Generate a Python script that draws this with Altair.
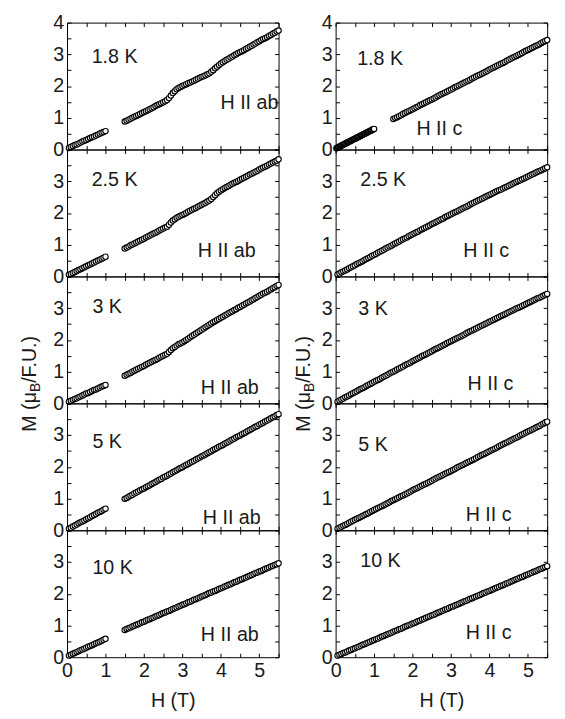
import altair as alt
import pandas as pd

FONT = "Liberation Sans"
TXT = "#1a1a1a"
W, HT = 215, 129

# ---------------- field grids (T) ----------------
H_LOW = [0.05, 0.10, 0.15, 0.20, 0.25, 0.30, 0.35, 0.40, 0.45, 0.50,
         0.55, 0.60, 0.65, 0.70, 0.75, 0.80, 0.85, 0.90, 0.95, 1.00]
H_HIGH = [1.50, 1.55, 1.60, 1.65, 1.70, 1.75, 1.80, 1.85, 1.90, 1.95,
          2.00, 2.05, 2.10, 2.15, 2.20, 2.25, 2.30, 2.35, 2.40, 2.45,
          2.50, 2.55, 2.60, 2.65, 2.70, 2.75, 2.80, 2.85, 2.90, 2.95,
          3.00, 3.05, 3.10, 3.15, 3.20, 3.25, 3.30, 3.35, 3.40, 3.45,
          3.50, 3.55, 3.60, 3.65, 3.70, 3.75, 3.80, 3.85, 3.90, 3.95,
          4.00, 4.05, 4.10, 4.15, 4.20, 4.25, 4.30, 4.35, 4.40, 4.45,
          4.50, 4.55, 4.60, 4.65, 4.70, 4.75, 4.80, 4.85, 4.90, 4.95,
          5.00, 5.05, 5.10, 5.15, 5.20, 5.25, 5.30, 5.35, 5.40, 5.45,
          5.50]
H_DENSE = [0.02, 0.04, 0.06, 0.08, 0.10, 0.12, 0.14, 0.16, 0.18, 0.20,
           0.22, 0.24, 0.26, 0.28, 0.30, 0.32, 0.34, 0.36, 0.38, 0.40,
           0.42, 0.44, 0.46, 0.48, 0.50, 0.52, 0.54, 0.56, 0.58, 0.60,
           0.62, 0.64, 0.66, 0.68, 0.70, 0.72, 0.74, 0.76, 0.78, 0.80,
           0.82, 0.84, 0.86, 0.88, 0.90, 0.92, 0.94, 0.96, 0.98, 1.00]
H_FULL = [0.05, 0.10, 0.15, 0.20, 0.25, 0.30, 0.35, 0.40, 0.45, 0.50,
          0.55, 0.60, 0.65, 0.70, 0.75, 0.80, 0.85, 0.90, 0.95, 1.00,
          1.05, 1.10, 1.15, 1.20, 1.25, 1.30, 1.35, 1.40, 1.45, 1.50,
          1.55, 1.60, 1.65, 1.70, 1.75, 1.80, 1.85, 1.90, 1.95, 2.00,
          2.05, 2.10, 2.15, 2.20, 2.25, 2.30, 2.35, 2.40, 2.45, 2.50,
          2.55, 2.60, 2.65, 2.70, 2.75, 2.80, 2.85, 2.90, 2.95, 3.00,
          3.05, 3.10, 3.15, 3.20, 3.25, 3.30, 3.35, 3.40, 3.45, 3.50,
          3.55, 3.60, 3.65, 3.70, 3.75, 3.80, 3.85, 3.90, 3.95, 4.00,
          4.05, 4.10, 4.15, 4.20, 4.25, 4.30, 4.35, 4.40, 4.45, 4.50,
          4.55, 4.60, 4.65, 4.70, 4.75, 4.80, 4.85, 4.90, 4.95, 5.00,
          5.05, 5.10, 5.15, 5.20, 5.25, 5.30, 5.35, 5.40, 5.45, 5.50]

# ---------------- H || ab magnetization (muB/F.U.) ----------------
M_AB_18_LOW = [0.05, 0.08, 0.11, 0.14, 0.16, 0.19, 0.22, 0.25, 0.28, 0.30,
               0.33, 0.36, 0.39, 0.41, 0.44, 0.47, 0.50, 0.53, 0.55, 0.58]
M_AB_18_HIGH = [0.88, 0.91, 0.94, 0.97, 1.00, 1.03, 1.06, 1.09, 1.12, 1.15,
                1.18, 1.21, 1.24, 1.27, 1.30, 1.33, 1.37, 1.40, 1.43, 1.46,
                1.49, 1.52, 1.56, 1.62, 1.70, 1.78, 1.84, 1.90, 1.94, 1.97,
                2.00, 2.03, 2.06, 2.09, 2.11, 2.14, 2.17, 2.20, 2.23, 2.26,
                2.29, 2.31, 2.34, 2.37, 2.40, 2.45, 2.50, 2.56, 2.61, 2.66,
                2.71, 2.75, 2.79, 2.83, 2.86, 2.90, 2.93, 2.97, 3.00, 3.04,
                3.07, 3.10, 3.13, 3.17, 3.20, 3.24, 3.27, 3.31, 3.34, 3.38,
                3.41, 3.45, 3.48, 3.51, 3.54, 3.58, 3.61, 3.65, 3.68, 3.72,
                3.75]
M_AB_25_LOW = [0.05, 0.08, 0.11, 0.14, 0.17, 0.20, 0.23, 0.26, 0.29, 0.32,
               0.35, 0.38, 0.41, 0.44, 0.47, 0.50, 0.53, 0.56, 0.59, 0.62]
M_AB_25_HIGH = [0.88, 0.91, 0.94, 0.98, 1.01, 1.04, 1.07, 1.10, 1.13, 1.16,
                1.19, 1.23, 1.26, 1.29, 1.32, 1.35, 1.38, 1.41, 1.45, 1.48,
                1.51, 1.54, 1.57, 1.63, 1.70, 1.76, 1.80, 1.85, 1.88, 1.91,
                1.94, 1.97, 2.00, 2.04, 2.07, 2.10, 2.13, 2.16, 2.20, 2.23,
                2.26, 2.29, 2.32, 2.36, 2.39, 2.44, 2.50, 2.56, 2.62, 2.67,
                2.71, 2.75, 2.79, 2.82, 2.85, 2.89, 2.92, 2.95, 2.98, 3.01,
                3.05, 3.08, 3.11, 3.14, 3.17, 3.21, 3.24, 3.27, 3.30, 3.33,
                3.37, 3.40, 3.43, 3.46, 3.49, 3.53, 3.56, 3.59, 3.62, 3.65,
                3.69]
M_AB_3_LOW = [0.05, 0.08, 0.11, 0.14, 0.16, 0.19, 0.22, 0.25, 0.28, 0.31,
              0.33, 0.36, 0.39, 0.42, 0.44, 0.47, 0.50, 0.53, 0.55, 0.58]
M_AB_3_HIGH = [0.87, 0.90, 0.93, 0.96, 1.00, 1.03, 1.06, 1.09, 1.12, 1.15,
               1.18, 1.22, 1.25, 1.28, 1.31, 1.34, 1.37, 1.40, 1.44, 1.47,
               1.50, 1.53, 1.56, 1.62, 1.68, 1.74, 1.78, 1.82, 1.86, 1.89,
               1.92, 1.96, 2.00, 2.04, 2.08, 2.12, 2.16, 2.20, 2.24, 2.28,
               2.32, 2.36, 2.40, 2.44, 2.48, 2.52, 2.56, 2.59, 2.63, 2.66,
               2.70, 2.73, 2.77, 2.80, 2.84, 2.87, 2.90, 2.94, 2.97, 3.01,
               3.04, 3.08, 3.11, 3.15, 3.18, 3.21, 3.25, 3.28, 3.32, 3.35,
               3.39, 3.42, 3.46, 3.49, 3.52, 3.56, 3.59, 3.63, 3.66, 3.70,
               3.73]
M_AB_5_LOW = [0.05, 0.08, 0.12, 0.15, 0.18, 0.22, 0.25, 0.28, 0.31, 0.35,
              0.38, 0.41, 0.45, 0.48, 0.51, 0.55, 0.58, 0.61, 0.65, 0.68]
M_AB_5_HIGH = [0.99, 1.02, 1.06, 1.09, 1.12, 1.16, 1.19, 1.22, 1.26, 1.29,
               1.32, 1.36, 1.39, 1.42, 1.46, 1.49, 1.52, 1.56, 1.59, 1.62,
               1.66, 1.69, 1.72, 1.76, 1.79, 1.83, 1.86, 1.89, 1.93, 1.96,
               1.99, 2.03, 2.06, 2.09, 2.13, 2.16, 2.19, 2.23, 2.26, 2.29,
               2.33, 2.36, 2.39, 2.43, 2.46, 2.49, 2.53, 2.56, 2.59, 2.63,
               2.66, 2.69, 2.73, 2.76, 2.79, 2.83, 2.86, 2.89, 2.93, 2.96,
               2.99, 3.03, 3.06, 3.09, 3.13, 3.16, 3.19, 3.23, 3.26, 3.29,
               3.33, 3.36, 3.39, 3.43, 3.46, 3.49, 3.53, 3.56, 3.59, 3.63,
               3.66]
M_AB_10_LOW = [0.05, 0.08, 0.11, 0.13, 0.16, 0.19, 0.22, 0.24, 0.27, 0.30,
               0.33, 0.35, 0.38, 0.41, 0.44, 0.46, 0.49, 0.52, 0.55, 0.58]
M_AB_10_HIGH = [0.86, 0.89, 0.91, 0.94, 0.97, 0.99, 1.02, 1.04, 1.07, 1.10,
                1.12, 1.15, 1.18, 1.20, 1.23, 1.25, 1.28, 1.31, 1.33, 1.36,
                1.39, 1.41, 1.44, 1.46, 1.49, 1.52, 1.54, 1.57, 1.60, 1.62,
                1.65, 1.67, 1.70, 1.73, 1.75, 1.78, 1.81, 1.83, 1.86, 1.88,
                1.91, 1.94, 1.96, 1.99, 2.02, 2.04, 2.07, 2.09, 2.12, 2.15,
                2.17, 2.20, 2.23, 2.25, 2.28, 2.30, 2.33, 2.36, 2.38, 2.41,
                2.44, 2.46, 2.49, 2.51, 2.54, 2.57, 2.59, 2.62, 2.65, 2.67,
                2.70, 2.72, 2.75, 2.78, 2.80, 2.83, 2.86, 2.88, 2.91, 2.93,
                2.96]

# ---------------- H || c magnetization (muB/F.U.) ----------------
M_C_18_LOW = [0.04, 0.05, 0.07, 0.08, 0.09, 0.10, 0.12, 0.13, 0.14, 0.15,
              0.17, 0.18, 0.19, 0.20, 0.22, 0.23, 0.24, 0.25, 0.27, 0.28,
              0.29, 0.30, 0.32, 0.33, 0.34, 0.35, 0.36, 0.38, 0.39, 0.40,
              0.41, 0.43, 0.44, 0.45, 0.46, 0.48, 0.49, 0.50, 0.51, 0.53,
              0.54, 0.55, 0.56, 0.58, 0.59, 0.60, 0.61, 0.63, 0.64, 0.65]
M_C_18_HIGH = [0.96, 0.99, 1.02, 1.05, 1.08, 1.12, 1.15, 1.18, 1.21, 1.24,
               1.27, 1.30, 1.33, 1.36, 1.40, 1.43, 1.46, 1.49, 1.52, 1.55,
               1.58, 1.61, 1.64, 1.68, 1.71, 1.74, 1.77, 1.80, 1.83, 1.86,
               1.89, 1.92, 1.96, 1.99, 2.02, 2.05, 2.08, 2.11, 2.14, 2.17,
               2.20, 2.24, 2.27, 2.30, 2.33, 2.36, 2.39, 2.42, 2.45, 2.48,
               2.52, 2.55, 2.58, 2.61, 2.64, 2.67, 2.70, 2.73, 2.76, 2.80,
               2.83, 2.86, 2.89, 2.92, 2.95, 2.98, 3.01, 3.04, 3.08, 3.11,
               3.14, 3.17, 3.20, 3.23, 3.26, 3.29, 3.32, 3.36, 3.39, 3.42,
               3.45]
M_C_25 = [0.06, 0.09, 0.13, 0.16, 0.19, 0.22, 0.26, 0.29, 0.32, 0.35,
          0.39, 0.42, 0.45, 0.48, 0.52, 0.55, 0.58, 0.61, 0.65, 0.68,
          0.71, 0.75, 0.78, 0.81, 0.84, 0.88, 0.91, 0.94, 0.97, 1.01,
          1.04, 1.07, 1.10, 1.14, 1.17, 1.20, 1.23, 1.27, 1.30, 1.33,
          1.36, 1.39, 1.42, 1.46, 1.49, 1.52, 1.55, 1.58, 1.61, 1.65,
          1.68, 1.71, 1.74, 1.77, 1.80, 1.83, 1.87, 1.90, 1.93, 1.96,
          1.99, 2.02, 2.05, 2.08, 2.11, 2.14, 2.17, 2.20, 2.23, 2.27,
          2.30, 2.33, 2.36, 2.39, 2.42, 2.45, 2.48, 2.51, 2.54, 2.57,
          2.60, 2.63, 2.66, 2.69, 2.72, 2.74, 2.77, 2.80, 2.83, 2.86,
          2.89, 2.92, 2.95, 2.98, 3.01, 3.03, 3.06, 3.09, 3.12, 3.15,
          3.18, 3.21, 3.24, 3.27, 3.30, 3.32, 3.35, 3.38, 3.41, 3.44]
M_C_3 = [0.05, 0.09, 0.12, 0.15, 0.19, 0.22, 0.25, 0.29, 0.32, 0.35,
         0.38, 0.42, 0.45, 0.48, 0.51, 0.55, 0.58, 0.61, 0.64, 0.68,
         0.71, 0.74, 0.77, 0.81, 0.84, 0.87, 0.90, 0.94, 0.97, 1.00,
         1.03, 1.07, 1.10, 1.13, 1.16, 1.20, 1.23, 1.26, 1.29, 1.33,
         1.36, 1.39, 1.42, 1.45, 1.49, 1.52, 1.55, 1.58, 1.61, 1.64,
         1.68, 1.71, 1.74, 1.77, 1.80, 1.83, 1.86, 1.90, 1.93, 1.96,
         1.99, 2.02, 2.05, 2.08, 2.11, 2.14, 2.17, 2.21, 2.24, 2.27,
         2.30, 2.33, 2.36, 2.39, 2.42, 2.45, 2.48, 2.51, 2.54, 2.57,
         2.60, 2.63, 2.66, 2.69, 2.72, 2.75, 2.78, 2.81, 2.84, 2.87,
         2.90, 2.93, 2.96, 2.99, 3.01, 3.04, 3.07, 3.10, 3.13, 3.16,
         3.19, 3.22, 3.25, 3.28, 3.31, 3.33, 3.36, 3.39, 3.42, 3.45]
M_C_5 = [0.05, 0.08, 0.11, 0.14, 0.17, 0.20, 0.24, 0.27, 0.30, 0.33,
         0.36, 0.39, 0.42, 0.45, 0.48, 0.51, 0.54, 0.58, 0.61, 0.64,
         0.67, 0.70, 0.73, 0.76, 0.79, 0.82, 0.85, 0.88, 0.92, 0.95,
         0.98, 1.01, 1.04, 1.07, 1.10, 1.13, 1.16, 1.19, 1.22, 1.26,
         1.29, 1.32, 1.35, 1.38, 1.41, 1.44, 1.47, 1.50, 1.53, 1.56,
         1.60, 1.63, 1.66, 1.69, 1.72, 1.75, 1.78, 1.81, 1.84, 1.87,
         1.90, 1.93, 1.97, 2.00, 2.03, 2.06, 2.09, 2.12, 2.15, 2.18,
         2.21, 2.24, 2.27, 2.31, 2.34, 2.37, 2.40, 2.43, 2.46, 2.49,
         2.52, 2.55, 2.58, 2.61, 2.65, 2.68, 2.71, 2.74, 2.77, 2.80,
         2.83, 2.86, 2.89, 2.92, 2.95, 2.99, 3.02, 3.05, 3.08, 3.11,
         3.14, 3.17, 3.20, 3.23, 3.26, 3.29, 3.33, 3.36, 3.39, 3.42]
M_C_10 = [0.05, 0.08, 0.10, 0.13, 0.15, 0.18, 0.21, 0.23, 0.26, 0.28,
          0.31, 0.33, 0.36, 0.39, 0.41, 0.44, 0.46, 0.49, 0.52, 0.54,
          0.57, 0.59, 0.62, 0.65, 0.67, 0.70, 0.72, 0.75, 0.77, 0.80,
          0.83, 0.85, 0.88, 0.90, 0.93, 0.96, 0.98, 1.01, 1.03, 1.06,
          1.08, 1.11, 1.14, 1.16, 1.19, 1.21, 1.24, 1.27, 1.29, 1.32,
          1.34, 1.37, 1.40, 1.42, 1.45, 1.47, 1.50, 1.52, 1.55, 1.58,
          1.60, 1.63, 1.65, 1.68, 1.71, 1.73, 1.76, 1.78, 1.81, 1.84,
          1.86, 1.89, 1.91, 1.94, 1.96, 1.99, 2.02, 2.04, 2.07, 2.09,
          2.12, 2.14, 2.17, 2.20, 2.22, 2.25, 2.27, 2.30, 2.33, 2.35,
          2.38, 2.40, 2.43, 2.46, 2.48, 2.51, 2.53, 2.56, 2.59, 2.61,
          2.64, 2.66, 2.69, 2.71, 2.74, 2.77, 2.79, 2.82, 2.84, 2.87]

# ---------------- labels / annotations ----------------
TEMPS = ["1.8 K", "2.5 K", "3 K", "5 K", "10 K"]
AB_LABEL = "H II ab"
C_LABEL = "H II c"
AB_TEMP_H = [0.64, 0.64, 0.66, 0.66, 0.66]
AB_TEMP_M = [2.92, 3.03, 3.02, 2.79, 2.81]
AB_LAB_H = [3.99, 3.40, 3.48, 3.53, 3.48]
AB_LAB_M = [1.47, 0.81, 0.49, 0.38, 0.71]
C_TEMP_H = [0.56, 0.64, 0.59, 0.59, 0.64]
C_TEMP_M = [2.86, 3.03, 2.96, 2.70, 3.02]
C_LAB_H = [2.10, 3.32, 3.43, 3.38, 3.38]
C_LAB_M = [0.64, 0.81, 0.61, 0.48, 0.77]

X_LABELS = [0, 1, 2, 3, 4, 5]
Y_LABELS = [0, 1, 2, 3]
Y_LABELS_TOP = [0, 1, 2, 3, 4]
X_TICKS = [0, 0.5, 1, 1.5, 2, 2.5, 3, 3.5, 4, 4.5, 5, 5.5]
Y_TICKS = [0, 0.5, 1, 1.5, 2, 2.5, 3, 3.5, 4]
XDOM = [0, 5.5]
YDOM = [0, 4]
TICK = 4
X_TITLE = "H (T)"
Y_TITLE_PARTS = ["M (\u03bc", "B", "/F.U.)"]


def make_df(parts):
    rows = []
    for hs, ms in parts:
        for h, m in zip(hs, ms):
            rows.append({"H": h, "M": m})
    return pd.DataFrame(rows)


def ytitle_layers(bx):
    yc = 108
    l0 = 40.4
    l1 = 9.3
    l2 = 50.0
    y0 = yc + (l0 + l1 + l2) / 2
    y1 = y0 - l0
    y2 = y1 - l1
    specs = [(Y_TITLE_PARTS[0], 20, bx, y0),
             (Y_TITLE_PARTS[1], 14, bx + 4.5, y1),
             (Y_TITLE_PARTS[2], 20, bx, y2)]
    out = []
    for t, fs, xx, yy in specs:
        out.append(
            alt.Chart(pd.DataFrame({"t": [t]}))
            .mark_text(angle=270, align="left", baseline="alphabetic",
                       font=FONT, fontSize=fs, color=TXT)
            .encode(x=alt.value(xx), y=alt.value(yy), text="t:N")
        )
    return out


def panel(df, ann_df, is_top, is_bottom, ytitle_x):
    xs = alt.Scale(domain=XDOM, nice=False, zero=False)
    ys = alt.Scale(domain=YDOM, nice=False, zero=False)
    if is_bottom:
        xa = alt.Axis(orient="bottom", values=X_LABELS, ticks=False, domain=False,
                      grid=False, labelPadding=3.5, labelFlush=False,
                      title=X_TITLE, titlePadding=11)
    else:
        xa = None
    ya = alt.Axis(orient="left", values=Y_LABELS_TOP if is_top else Y_LABELS,
                  ticks=False, domain=False, grid=False, labelPadding=3.5,
                  labelFlush=False, title=None)
    pts = alt.Chart(df).mark_point(
        shape="circle", filled=True, fill="white", stroke="black",
        strokeWidth=1.1, size=30, opacity=1
    ).encode(x=alt.X("H:Q", scale=xs, axis=xa), y=alt.Y("M:Q", scale=ys, axis=ya))

    def tick_axis(orient, vals):
        return alt.Axis(orient=orient, values=vals, labels=False, domain=False,
                        grid=False, ticks=True, tickSize=TICK, offset=-TICK,
                        title=None)

    t1 = alt.Chart(df).mark_point(opacity=0).encode(
        x=alt.X("H:Q", scale=xs, axis=tick_axis("bottom", X_TICKS)),
        y=alt.Y("M:Q", scale=ys, axis=tick_axis("left", Y_TICKS)),
    )
    t2 = alt.Chart(df).mark_point(opacity=0).encode(
        x=alt.X("H:Q", scale=xs, axis=tick_axis("top", X_TICKS)),
        y=alt.Y("M:Q", scale=ys, axis=tick_axis("right", Y_TICKS)),
    )
    txt = alt.Chart(ann_df).mark_text(
        align="left", baseline="middle", font=FONT, fontSize=20, color=TXT
    ).encode(x=alt.X("H:Q", scale=xs, axis=None),
             y=alt.Y("M:Q", scale=ys, axis=None), text="label:N")
    layers = [t1, t2, pts, txt]
    if ytitle_x is not None:
        layers += ytitle_layers(ytitle_x)
    return alt.layer(*layers).resolve_axis(x="independent", y="independent").properties(
        width=W, height=HT)


ab_data = [
    make_df([(H_LOW, M_AB_18_LOW), (H_HIGH, M_AB_18_HIGH)]),
    make_df([(H_LOW, M_AB_25_LOW), (H_HIGH, M_AB_25_HIGH)]),
    make_df([(H_LOW, M_AB_3_LOW), (H_HIGH, M_AB_3_HIGH)]),
    make_df([(H_LOW, M_AB_5_LOW), (H_HIGH, M_AB_5_HIGH)]),
    make_df([(H_LOW, M_AB_10_LOW), (H_HIGH, M_AB_10_HIGH)]),
]
c_data = [
    make_df([(H_DENSE, M_C_18_LOW), (H_HIGH, M_C_18_HIGH)]),
    make_df([(H_FULL, M_C_25)]),
    make_df([(H_FULL, M_C_3)]),
    make_df([(H_FULL, M_C_5)]),
    make_df([(H_FULL, M_C_10)]),
]

panels = []
for i in range(5):
    ann_ab = pd.DataFrame({"H": [AB_TEMP_H[i], AB_LAB_H[i]],
                           "M": [AB_TEMP_M[i], AB_LAB_M[i]],
                           "label": [TEMPS[i], AB_LABEL]})
    ann_c = pd.DataFrame({"H": [C_TEMP_H[i], C_LAB_H[i]],
                          "M": [C_TEMP_M[i], C_LAB_M[i]],
                          "label": [TEMPS[i], C_LABEL]})
    panels.append(panel(ab_data[i], ann_ab, i == 0, i == 4, -32 if i == 2 else None))
    panels.append(panel(c_data[i], ann_c, i == 0, i == 4, -26 if i == 2 else None))

chart = alt.concat(
    *panels, columns=2, spacing={"row": 0, "column": 58}, bounds="flush"
).properties(
    padding={"left": 11, "right": 4, "top": -2, "bottom": 4}
).configure_view(
    stroke="black", strokeWidth=1
).configure_axis(
    labelFont=FONT, titleFont=FONT, labelFontSize=20, titleFontSize=20,
    titleFontWeight="normal", labelColor=TXT, titleColor=TXT,
    tickColor="black", tickWidth=1
)

chart.save("out.html", embed_options={"renderer": "svg", "actions": False})
